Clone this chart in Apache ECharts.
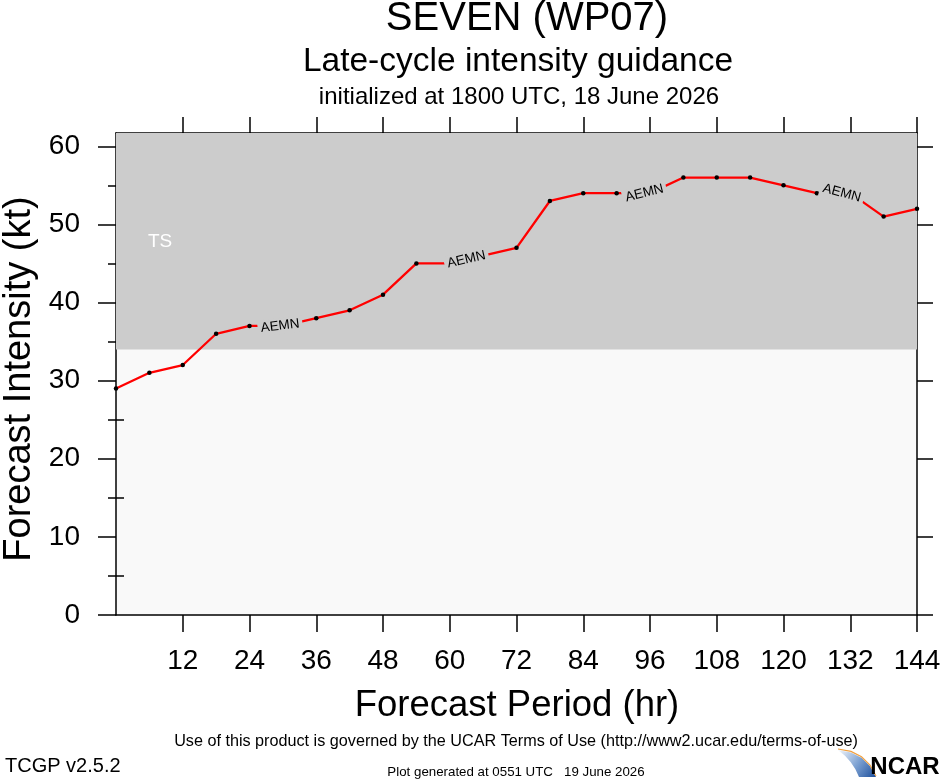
<!DOCTYPE html>
<html style="height: 100%">
<head>
<meta charset="utf-8">
<title>SEVEN (WP07) intensity guidance</title>
<script src="https://cdn.jsdelivr.net/npm/echarts@6/dist/echarts.min.js"></script>
</head>
<body style="height: 100%; margin: 0; background: #fff">
<div id="container" style="width: 940px; height: 780px"></div>
<script type="text/javascript">

// forecast hours and AEMN intensity (kt)
const hours = [0, 6, 12, 18, 24, 30, 36, 42, 48, 54, 60, 66, 72, 78, 84, 90, 96, 102, 108, 114, 120, 126, 132, 138, 144];
const aemn = [29, 31, 32, 36, 37, 37, 38, 39, 41, 45, 45, 46, 47, 53, 54, 54, 54, 56, 56, 56, 55, 54, 54, 51, 52];

// where the model name is written along the line
const labelHours = [29.5, 63, 95, 130.5];
const labelText = 'AEMN';

// tick labels
const xTicks = [12, 24, 36, 48, 60, 72, 84, 96, 108, 120, 132, 144];
const yTicks = [0, 10, 20, 30, 40, 50, 60];
const yMinor = [5, 15, 25, 35, 45, 55];

// tropical storm band starts at 34 kt
const tsFloor = 34;
const yTop = 61.7;

const FONT = 'Liberation Sans, Arial, Helvetica, sans-serif';
const labelRot = [7, 13, 14, -15];

function valueAt(h) {
    for (let i = 0; i < hours.length - 1; i++) {
        if (h >= hours[i] && h <= hours[i + 1]) {
            let t = (h - hours[i]) / (hours[i + 1] - hours[i]);
            return aemn[i] + t * (aemn[i + 1] - aemn[i]);
        }
    }
    return aemn[aemn.length - 1];
}

let lineData = hours.map(function (h, i) { return [h, aemn[i]]; });
let tagData = labelHours.map(function (h, i) {
    return { value: [h, valueAt(h)], label: { rotate: labelRot[i] } };
});

let chart = echarts.init(document.getElementById('container'));

let tickStyle = { color: '#000', width: 1.5 };
let axisLineStyle = { show: true, onZero: false, lineStyle: { color: '#000', width: 1.5 } };

function yAxisDef(pos, ticks, len, showLine, showLabels) {
    return {
        type: 'value', position: pos, min: 0, max: yTop,
        axisLine: showLine ? axisLineStyle : { show: false },
        axisTick: { show: true, inside: false, length: len, customValues: ticks, lineStyle: tickStyle },
        axisLabel: showLabels ? {
            show: true, customValues: ticks, fontSize: 28, margin: 36, color: '#000', fontFamily: FONT
        } : { show: false },
        splitLine: { show: false }
    };
}

function txt(x, y, s, font, align) {
    return {
        type: 'text', x: x, y: y,
        style: { text: s, font: font, fill: '#000', align: align || 'center', verticalAlign: 'middle' }
    };
}

chart.setOption({
    animation: false,
    backgroundColor: '#fff',
    grid: {
        left: 116, right: 23, top: 133, bottom: 165,
        containLabel: false, outerBoundsMode: 'none',
        show: true, backgroundColor: '#f9f9f9', borderWidth: 0
    },
    xAxis: [
        {
            type: 'value', position: 'bottom', min: 0, max: 144,
            axisLine: axisLineStyle,
            axisTick: { show: true, inside: false, length: 17, customValues: xTicks, lineStyle: tickStyle },
            axisLabel: { customValues: xTicks, fontSize: 28, margin: 32, color: '#000', fontFamily: FONT },
            splitLine: { show: false }
        },
        {
            type: 'value', position: 'top', min: 0, max: 144,
            axisLine: axisLineStyle,
            axisTick: { show: true, inside: false, length: 16, customValues: xTicks, lineStyle: tickStyle },
            axisLabel: { show: false },
            splitLine: { show: false }
        }
    ],
    yAxis: [
        yAxisDef('left', yTicks, 18, true, true),
        yAxisDef('left', yMinor, 8, false, false),
        yAxisDef('right', yTicks, 16, true, false),
        yAxisDef('right', yMinor, 8, false, false)
    ],
    series: [
        {
            type: 'line',
            data: lineData,
            xAxisIndex: 0, yAxisIndex: 0,
            symbol: 'circle', symbolSize: 4.5, showSymbol: true,
            itemStyle: { color: '#000' },
            lineStyle: { color: '#ff0000', width: 2.3 },
            z: 2,
            markArea: {
                silent: true,
                itemStyle: { color: '#cccccc' },
                label: {
                    show: true, position: [32, 99], color: '#fff',
                    fontSize: 19, fontFamily: FONT
                },
                data: [[{ name: 'TS', coord: [0, tsFloor] }, { coord: [144, yTop] }]]
            }
        },
        {
            // model name written on the line, hiding it underneath
            type: 'scatter',
            data: tagData,
            xAxisIndex: 0, yAxisIndex: 0,
            symbolSize: 0,
            itemStyle: { color: '#cccccc', opacity: 1 },
            z: 10,
            label: {
                show: true, position: 'inside', formatter: labelText,
                fontSize: 13.5, color: '#000', opacity: 1, fontFamily: FONT,
                textBorderWidth: 0, textBorderColor: 'transparent',
                backgroundColor: '#cccccc', padding: [1, 3]
            }
        }
    ],
    graphic: [
        txt(527, 19, 'SEVEN (WP07)', '40px ' + FONT),
        txt(518, 62, 'Late-cycle intensity guidance', '33.5px ' + FONT),
        txt(519, 97, 'initialized at 1800 UTC, 18 June 2026', '24px ' + FONT),
        txt(517, 706, 'Forecast Period (hr)', '36.5px ' + FONT),
        {
            type: 'text', x: 20, y: 379, rotation: Math.PI / 2,
            style: { text: 'Forecast Intensity (kt)', font: '38px ' + FONT, fill: '#000', align: 'center', verticalAlign: 'middle' }
        },
        txt(516, 742, 'Use of this product is governed by the UCAR Terms of Use (http://www2.ucar.edu/terms-of-use)', '16.2px ' + FONT),
        txt(5, 766, 'TCGP v2.5.2', '20px ' + FONT, 'left'),
        txt(516, 772, 'Plot generated at 0551 UTC   19 June 2026', '13.3px ' + FONT),
        // NCAR logo, rough
        {
            type: 'polygon',
            shape: { points: [[838, 750], [851, 752.4], [861.5, 757.8], [870, 766], [876, 777], [859, 777], [855.4, 769.3], [850.8, 762.3], [845, 755.8]] },
            style: {
                fill: new echarts.graphic.LinearGradient(0, 0, 1, 1, [
                    { offset: 0, color: '#f4f7fb' }, { offset: 0.5, color: '#7fa3d3' }, { offset: 1, color: '#1d4f9c' }
                ])
            }
        },
        {
            type: 'polyline',
            shape: { points: [[838, 749], [851, 751.4], [861.5, 756.8], [870, 765], [876, 776]] },
            style: { fill: null, stroke: '#f0a040', lineWidth: 1.2 }
        },
        txt(905, 767, 'NCAR', 'bold 24px ' + FONT)
    ]
});

</script>
</body>
</html>
